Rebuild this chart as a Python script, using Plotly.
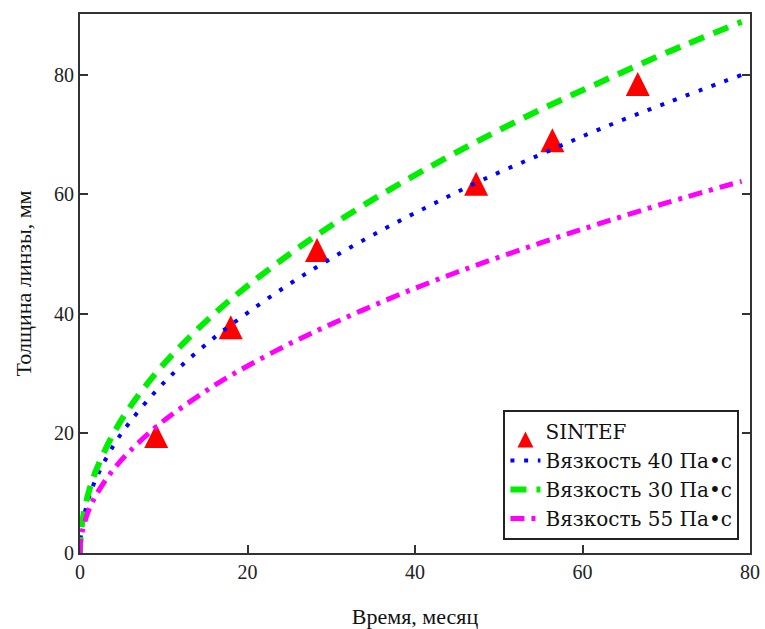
import plotly.graph_objects as go

# Time, months
t_curve = [0, 0.05, 0.25, 1, 2, 4, 6, 9, 12, 16, 20, 25, 30, 36, 42, 48, 55, 62, 70, 79]
# Lens thickness, mm
visc40 = [0, 2.0, 4.5, 9.0, 12.7, 18.0, 22.0, 27.0, 31.2, 36.0, 40.2, 45.0, 49.3, 54.0, 58.3, 62.4, 66.7, 70.9, 75.3, 80.0]
visc30 = [0, 2.2, 5.0, 10.0, 14.1, 20.0, 24.5, 30.0, 34.6, 40.0, 44.7, 50.0, 54.8, 60.0, 64.8, 69.3, 74.2, 78.7, 83.7, 88.9]
visc55 = [0, 1.6, 3.5, 7.0, 9.9, 14.0, 17.1, 21.0, 24.2, 28.0, 31.3, 35.0, 38.3, 42.0, 45.4, 48.5, 51.9, 55.1, 58.6, 62.2]

sintef_t = [9.1, 18.0, 28.3, 47.3, 56.4, 66.6]
sintef_h = [21.6, 39.8, 52.7, 63.8, 71.1, 80.5]

x_ticks = [0, 20, 40, 60, 80]
y_ticks = [0, 20, 40, 60, 80]

FONT = "Liberation Serif"
LEG_FONT = "DejaVu Serif"

fig = go.Figure()
fig.add_trace(go.Scatter(
    x=sintef_t, y=sintef_h, mode="markers", name="SINTEF",
    marker=dict(symbol="arrow-up", size=24, color="#ff0000", line=dict(width=0)),
))
fig.add_trace(go.Scatter(
    x=t_curve, y=visc40, mode="lines", name="Вязкость 40 Па•с",
    line=dict(color="#0000ff", width=4, dash="4px,9.7px", shape="spline"),
))
fig.add_trace(go.Scatter(
    x=t_curve, y=visc30, mode="lines", name="Вязкость 30 Па•с",
    line=dict(color="#00ee00", width=6, dash="16px,10px", shape="spline"),
))
fig.add_trace(go.Scatter(
    x=t_curve, y=visc55, mode="lines", name="Вязкость 55 Па•с",
    line=dict(color="#ff00ff", width=5, dash="14px,7px,4px,7px", shape="spline"),
))

axis_common = dict(
    showgrid=False, zeroline=False, showline=True, linecolor="#333333", linewidth=2,
    ticks="inside", ticklen=8, tickwidth=2, tickcolor="#333333", automargin=False,
    tickfont=dict(family=FONT, size=20, color="#222222"),
)

fig.update_layout(
    width=765, height=629,
    margin=dict(l=80, r=15, t=14, b=76),
    paper_bgcolor="white", plot_bgcolor="white",
    font=dict(family=FONT, color="#111111"),
    xaxis=dict(range=[0, 80], tickvals=x_ticks, mirror=True,
               title=dict(text="Время, месяц", font=dict(family=FONT, size=22), standoff=30),
               **axis_common),
    yaxis=dict(range=[0, 90.2], tickvals=y_ticks, mirror="ticks",
               title=dict(text="Толщина линзы, мм", font=dict(family=FONT, size=22), standoff=16),
               **axis_common),
    legend=dict(x=0.632, y=0.024, xanchor="left", yanchor="bottom",
                bgcolor="white", bordercolor="#222222", borderwidth=2,
                font=dict(family=LEG_FONT, size=20, color="#111111"),
                tracegroupgap=0),
    showlegend=True,
)

fig.write_html("out.html")
